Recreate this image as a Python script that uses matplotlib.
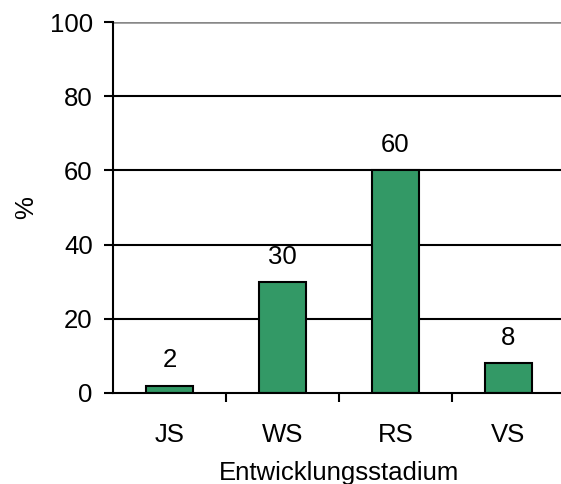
import matplotlib
matplotlib.use("Agg")
import matplotlib.pyplot as plt
from matplotlib.ticker import FixedLocator

categories = ["JS", "WS", "RS", "VS"]
values = [2, 30, 60, 8]
yticks = [0, 20, 40, 60, 80, 100]

plt.rcParams['font.family'] = ['Liberation Sans', 'DejaVu Sans']
FS = 18.5

fig = plt.figure(figsize=(5.61, 4.84), dpi=100)
ax = fig.add_axes([113/561, 1-393/484, 452/561, (393-22)/484])

x = list(range(len(categories)))
ax.bar(x, values, width=0.41, color="#339966", edgecolor="black", linewidth=1.5, zorder=3)
for xi, v in zip(x, values):
    ax.annotate(str(v), (xi, v), xytext=(0, 9.5), textcoords="offset points",
                ha="center", va="bottom", fontsize=FS)

ax.set_xlim(-0.5, len(categories) - 0.5)
ax.set_ylim(0, 100)
ax.set_yticks(yticks)
ax.set_yticklabels([str(t) for t in yticks], fontsize=FS)
for t in yticks[1:]:
    ax.axhline(t, color="#888888" if t == 100 else "black", linewidth=1.8 if t == 100 else 1.5, zorder=1)

ax.set_xticks(x)
ax.set_xticklabels(categories, fontsize=FS)
ax.tick_params(axis="x", which="major", length=0, pad=21.3)
ax.xaxis.set_minor_locator(FixedLocator([0.5, 1.5, 2.5]))
ax.tick_params(axis="x", which="minor", length=6.5, width=1.5, direction="out")
ax.tick_params(axis="y", length=6.5, width=1.5, direction="out", pad=8)

for s in ["top", "right"]:
    ax.spines[s].set_visible(False)
for s in ["left", "bottom"]:
    ax.spines[s].set_linewidth(1.5)
    ax.spines[s].set_zorder(4)

ax.set_xlabel("Entwicklungsstadium", fontsize=FS, labelpad=10.7)
ax.set_ylabel("%", fontsize=FS, labelpad=8)

fig.savefig("out.png", dpi=100)
